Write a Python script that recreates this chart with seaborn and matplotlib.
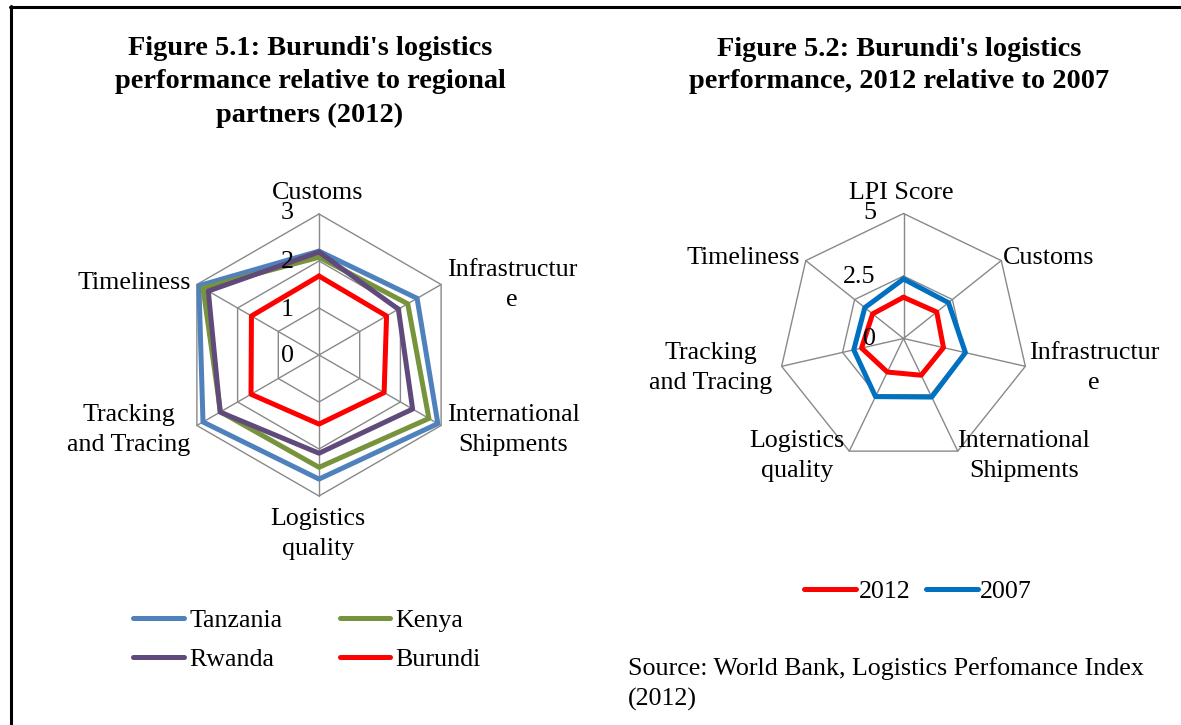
import numpy as np
import pandas as pd
import matplotlib
matplotlib.use("Agg")
import matplotlib.pyplot as plt
from matplotlib.lines import Line2D
import seaborn as sns

# ---------------- data ----------------
left_categories = ["Customs", "Infrastructure", "International Shipments",
                   "Logistics quality", "Tracking and Tracing", "Timeliness"]
left_labels = ["Customs", "Infrastructur\ne", "International\nShipments",
               "Logistics\nquality", "Tracking\nand Tracing", "Timeliness"]
countries = ["Tanzania", "Kenya", "Rwanda", "Burundi"]
tanzania = [2.21, 2.41, 2.92, 2.64, 2.85, 2.95]
kenya = [2.08, 2.18, 2.70, 2.39, 2.42, 2.85]
rwanda = [2.19, 1.95, 2.30, 2.09, 2.43, 2.72]
burundi = [1.68, 1.66, 1.60, 1.47, 1.67, 1.66]
left_ticks = [0, 1, 2, 3]

right_categories = ["LPI Score", "Customs", "Infrastructure", "International Shipments",
                    "Logistics quality", "Tracking and Tracing", "Timeliness"]
right_labels = ["LPI Score", "Customs", "Infrastructur\ne", "International\nShipments",
                "Logistics\nquality", "Tracking\nand Tracing", "Timeliness"]
years = ["2012", "2007"]
burundi_2012 = [1.65, 1.70, 1.64, 1.63, 1.49, 1.72, 1.58]
burundi_2007 = [2.38, 2.30, 2.54, 2.60, 2.58, 2.04, 1.98]
right_ticks = [0, 2.5, 5]

title_left = "Figure 5.1: Burundi's logistics\nperformance relative to regional\npartners (2012)"
title_right = "Figure 5.2: Burundi's logistics\nperformance, 2012 relative to 2007"
source_text = "Source: World Bank, Logistics Perfomance Index\n(2012)"

# ---------------- style ----------------
sns.set_theme(style="white")
plt.rcParams["font.family"] = ["Liberation Serif", "DejaVu Serif"]
plt.rcParams["text.color"] = "black"
GRID = "#898989"
FS = 18.7
TFS = 20.4
LW = 3.6
left_palette = {"Tanzania": "#4F81BD", "Kenya": "#77933C", "Rwanda": "#604A7B", "Burundi": "#FF0000"}
right_palette = {"2012": "#FF0000", "2007": "#0070C0"}

W, H = 1181, 725
fig = plt.figure(figsize=(W / 100, H / 100), dpi=100)
fig.patch.set_facecolor("white")


def fx(x):
    return x / W


def fy(y):
    return 1 - y / H


def radar_axes(cx, cy, R):
    ax = fig.add_axes([fx(cx - R), fy(cy + R), 2 * R / W, 2 * R / H], projection="polar")
    ax.set_theta_zero_location("N")
    ax.set_theta_direction(-1)
    ax.grid(False)
    ax.spines["polar"].set_visible(False)
    ax.patch.set_alpha(0)
    return ax


def draw_grid(ax, n, levels, rmax):
    ang = np.linspace(0, 2 * np.pi, n, endpoint=False)
    closed = np.r_[ang, ang[0]]
    for lv in levels:
        if lv > 0:
            ax.plot(closed, [lv] * (n + 1), color=GRID, lw=1.0, zorder=1, clip_on=False)
    for a in ang:
        ax.plot([a, a], [0, rmax], color=GRID, lw=1.0, zorder=1, clip_on=False)
    return ang


def long_frame(series_names, series_values, n):
    ang = np.linspace(0, 2 * np.pi, n, endpoint=False)
    rows = []
    for name, vals in zip(series_names, series_values):
        for i in range(n + 1):
            k = i % n
            rows.append({"series": name, "angle": ang[k] if i < n else ang[k] + 2 * np.pi,
                         "value": vals[k]})
    return pd.DataFrame(rows)


# ---------------- left radar ----------------
axL = radar_axes(319, 355, 141)
draw_grid(axL, 6, left_ticks, 3)
dfL = long_frame(countries, [tanzania, kenya, rwanda, burundi], 6)
sns.lineplot(data=dfL, x="angle", y="value", hue="series", hue_order=countries,
             palette=left_palette, sort=False, estimator=None, lw=LW,
             legend=False, ax=axL, clip_on=False, zorder=3)
axL.set_ylim(0, 3)
axL.set_xticks([])
axL.set_yticks([])
axL.set_xlabel("")
axL.set_ylabel("")

# ---------------- right radar ----------------
axR = radar_axes(903.5, 338.5, 125)
draw_grid(axR, 7, right_ticks, 5)
dfR = long_frame(years, [burundi_2012, burundi_2007], 7)
sns.lineplot(data=dfR, x="angle", y="value", hue="series", hue_order=years,
             palette=right_palette, sort=False, estimator=None, lw=LW,
             legend=False, ax=axR, clip_on=False, zorder=3)
axR.set_ylim(0, 5)
axR.set_xticks([])
axR.set_yticks([])
axR.set_xlabel("")
axR.set_ylabel("")

# ---------------- category labels ----------------
left_label_pos = [(318, 193), (512, 285), (513, 430), (318, 534), (129, 430), (134, 283)]
for txt, (x, y) in zip(left_labels, left_label_pos):
    fig.text(fx(x), fy(y), txt, ha="center", va="center", fontsize=FS,
             multialignment="center", linespacing=1.5)

right_label_pos = [(901, 193), (1049, 258), (1094, 368), (1024, 456), (797, 456), (711, 368), (743, 258)]
for txt, (x, y) in zip(right_labels, right_label_pos):
    fig.text(fx(x), fy(y), txt, ha="center", va="center", fontsize=FS,
             multialignment="center", linespacing=1.5)

# ---------------- tick labels ----------------
for t, y in zip(left_ticks, [356, 310, 262, 213]):
    fig.text(fx(287), fy(y), f"{t}", ha="center", va="center", fontsize=FS)
for t, (x, y) in zip(right_ticks, [(869, 339), (859, 277), (870, 213)]):
    fig.text(fx(x), fy(y), f"{t:g}", ha="center", va="center", fontsize=FS)

# ---------------- titles ----------------
fig.text(fx(310), fy(82), title_left, ha="center", va="center", fontsize=TFS,
         fontweight="bold", multialignment="center", linespacing=1.42)
fig.text(fx(899), fy(65.5), title_right, ha="center", va="center", fontsize=TFS,
         fontweight="bold", multialignment="center", linespacing=1.42)

# ---------------- legends ----------------
def handle(c):
    return Line2D([0], [0], color=c, lw=LW, solid_capstyle="round")

order = ["Tanzania", "Rwanda", "Kenya", "Burundi"]
legL = fig.legend([handle(left_palette[c]) for c in order], order, loc="center",
                  bbox_to_anchor=(fx(307), fy(640)), ncol=2, frameon=False,
                  fontsize=FS, handlelength=1.95, handletextpad=0.2,
                  columnspacing=2.2, labelspacing=0.62, borderpad=0)
legR = fig.legend([handle(right_palette[y]) for y in years], years, loc="center",
                  bbox_to_anchor=(fx(918), fy(591)), ncol=2, frameon=False,
                  fontsize=FS, handlelength=2.0, handletextpad=0.1,
                  columnspacing=0.6, borderpad=0)

# ---------------- source ----------------
fig.text(fx(628), fy(684), source_text, ha="left", va="center", fontsize=FS,
         linespacing=1.5)

# ---------------- frame lines ----------------
fig.add_artist(Line2D([fx(10), 1.0], [fy(7), fy(7)], color="black", lw=2.2))
fig.add_artist(Line2D([fx(11), fx(11)], [fy(6), 0.0], color="black", lw=2.2))

fig.savefig("out.png", dpi=100, facecolor="white")
